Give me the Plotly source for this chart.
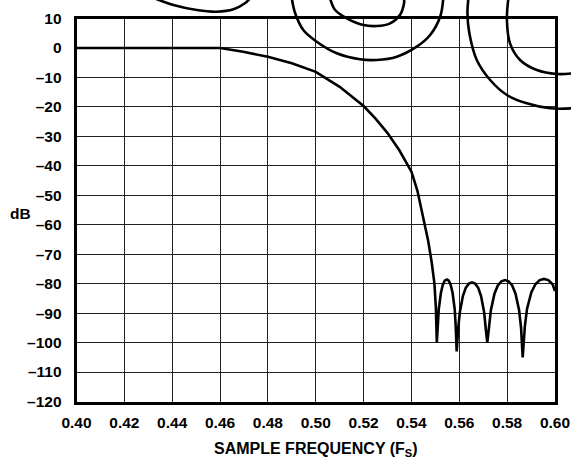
import plotly.graph_objects as go

# ---------------- data ----------------
# main frequency response (normalized frequency, dB)
freq = [0.40, 0.46, 0.4697, 0.48, 0.49, 0.50, 0.51, 0.52, 0.525, 0.53, 0.535, 0.54,
        0.5425, 0.545, 0.547, 0.5485, 0.5496, 0.5502, 0.5506,
        0.5510, 0.5514, 0.5523, 0.5531, 0.5539, 0.5548, 0.5556, 0.5564, 0.5572, 0.5581, 0.5585, 0.5589,
        0.5595, 0.5602, 0.5615, 0.5627, 0.5640, 0.5653, 0.5666, 0.5679, 0.5691, 0.5704, 0.5711, 0.5717,
        0.5724, 0.5732, 0.5747, 0.5761, 0.5776, 0.5791, 0.5806, 0.5821, 0.5835, 0.5850, 0.5858, 0.5865,
        0.5874, 0.5883, 0.5901, 0.5918, 0.5936, 0.5954, 0.5972, 0.5990, 0.60]
gain_db = [0, 0, -1.3, -3.0, -5.2, -8.1, -13.2, -19.7, -24.0, -28.9, -34.8, -42.0,
           -48.5, -57.5, -65.5, -73.0, -80.0, -88.0, -100.0,
           -94.5, -88.8, -83.2, -80.4, -79.0, -78.6, -79.0, -80.4, -83.2, -88.8, -94.5, -103.0,
           -95.7, -89.8, -84.2, -81.4, -80.0, -79.6, -80.0, -81.4, -84.2, -89.8, -95.7, -100.0,
           -94.9, -89.0, -83.4, -80.6, -79.2, -78.8, -79.2, -80.6, -83.4, -89.0, -94.9, -105.0,
           -94.5, -88.6, -83.0, -80.2, -78.8, -78.4, -78.8, -80.2, -82.5]

# stray overlapping curves seen at the top of the scanned chart (freq, dB)
stray_a_f = [0.4328, 0.4405, 0.4503, 0.4586, 0.4656, 0.4704, 0.4725]
stray_a_db = [16.8, 14.58, 12.89, 12.31, 13.12, 15.16, 16.8]
stray_b_f = [0.4900, 0.4914, 0.4948, 0.5004, 0.5088, 0.5185, 0.5255, 0.5339, 0.5422, 0.5478, 0.5520, 0.5533]
stray_b_db = [16.8, 11.77, 6.10, 2.13, -1.81, -3.85, -4.08, -2.96, 0.43, 4.40, 10.61, 16.8]
stray_c_f = [0.5060, 0.5081, 0.5130, 0.5199, 0.5255, 0.5311, 0.5352, 0.5369, 0.5369]
stray_c_db = [16.8, 12.89, 10.07, 7.79, 7.46, 8.37, 11.19, 15.16, 16.8]
stray_d_f = [0.5638, 0.5634, 0.5642, 0.5673, 0.5729, 0.5799, 0.5882, 0.5980, 0.6075]
stray_d_db = [16.8, 11.77, 4.98, -4.08, -10.87, -15.96, -18.78, -20.48, -20.48]
stray_e_f = [0.5805, 0.5799, 0.5812, 0.5854, 0.5924, 0.6008, 0.6075]
stray_e_db = [16.8, 9.49, 1.58, -4.08, -7.48, -8.84, -8.60]

x_ticks = [0.40, 0.42, 0.44, 0.46, 0.48, 0.50, 0.52, 0.54, 0.56, 0.58, 0.60]
x_ticktext = ["0.40", "0.42", "0.44", "0.46", "0.48", "0.50", "0.52", "0.54", "0.56", "0.58", "0.60"]
y_ticks = [10, 0, -10, -20, -30, -40, -50, -60, -70, -80, -90, -100, -110, -120]
y_ticktext = ["10", "0", "\u201310", "\u201320", "\u201330", "\u201340", "\u201350", "\u201360",
              "\u201370", "\u201380", "\u201390", "\u2013100", "\u2013110", "\u2013120"]

# ---------------- layout geometry ----------------
W, H = 571, 462
L, R, T, B = 76.5, 555.0, 18.5, 401.5
xdom = [L / W, R / W]
ydom = [1 - B / H, 1 - T / H]
# second (invisible) axes spanning whole figure with the same data scale
px_per_f = (R - L) / 0.2
px_per_db = (B - T) / 130.0
x2_range = [0.40 - L / px_per_f, 0.60 + (W - R) / px_per_f]
y2_range = [-120 - (H - B) / px_per_db, 10 + T / px_per_db]

FONT = "Liberation Sans, Arial, Helvetica, sans-serif"

fig = go.Figure()
fig.add_trace(go.Scatter(x=freq, y=gain_db, mode="lines",
                         line=dict(color="black", width=2.6),
                         xaxis="x", yaxis="y", showlegend=False, hoverinfo="skip"))
for fx, fy in [(stray_a_f, stray_a_db), (stray_b_f, stray_b_db), (stray_c_f, stray_c_db),
               (stray_d_f, stray_d_db), (stray_e_f, stray_e_db)]:
    fig.add_trace(go.Scatter(x=fx, y=fy, mode="lines",
                             line=dict(color="black", width=2.6, shape="spline", smoothing=1.0),
                             xaxis="x2", yaxis="y2", showlegend=False, hoverinfo="skip"))

fig.update_layout(
    width=W, height=H,
    margin=dict(l=0, r=0, t=0, b=0),
    paper_bgcolor="white", plot_bgcolor="rgba(0,0,0,0)",
    font=dict(family=FONT, color="black"),
    xaxis=dict(domain=xdom, range=[0.40, 0.60], tickvals=x_ticks, ticktext=x_ticktext,
               showgrid=True, gridcolor="#222", gridwidth=1.3, zeroline=False,
               showline=True, linecolor="black", linewidth=2.6, mirror=True,
               ticks="", ticklabelstandoff=5, anchor="y",
               tickfont=dict(family=FONT, size=15.5, weight="bold"), automargin=False),
    yaxis=dict(domain=ydom, range=[-120, 10], tickvals=y_ticks, ticktext=y_ticktext,
               showgrid=True, gridcolor="#222", gridwidth=1.3, zeroline=False,
               showline=True, linecolor="black", linewidth=2.6, mirror=True,
               ticks="", ticklabelstandoff=9, anchor="x",
               tickfont=dict(family=FONT, size=15.5, weight="bold"), automargin=False),
    xaxis2=dict(domain=[0, 1], range=x2_range, visible=False, anchor="y2", fixedrange=True),
    yaxis2=dict(domain=[0, 1], range=y2_range, visible=False, anchor="x2", fixedrange=True),
    annotations=[
        dict(text="SAMPLE FREQUENCY (F<sub>S</sub>)", xref="paper", yref="paper",
             x=(L + R) / 2 / W, y=1 - 449 / H, xanchor="center", yanchor="middle",
             showarrow=False, font=dict(family=FONT, size=16, weight="bold")),
        dict(text="dB", xref="paper", yref="paper", x=20.5 / W, y=1 - 213 / H,
             xanchor="center", yanchor="middle", showarrow=False,
             font=dict(family=FONT, size=15.5, weight="bold")),
    ],
)

fig.write_html("out.html",
               config={"displayModeBar": False},
               post_script="document.body.style.margin='0';"
                           "document.documentElement.style.margin='0';"
                           "document.body.style.overflow='hidden';")
